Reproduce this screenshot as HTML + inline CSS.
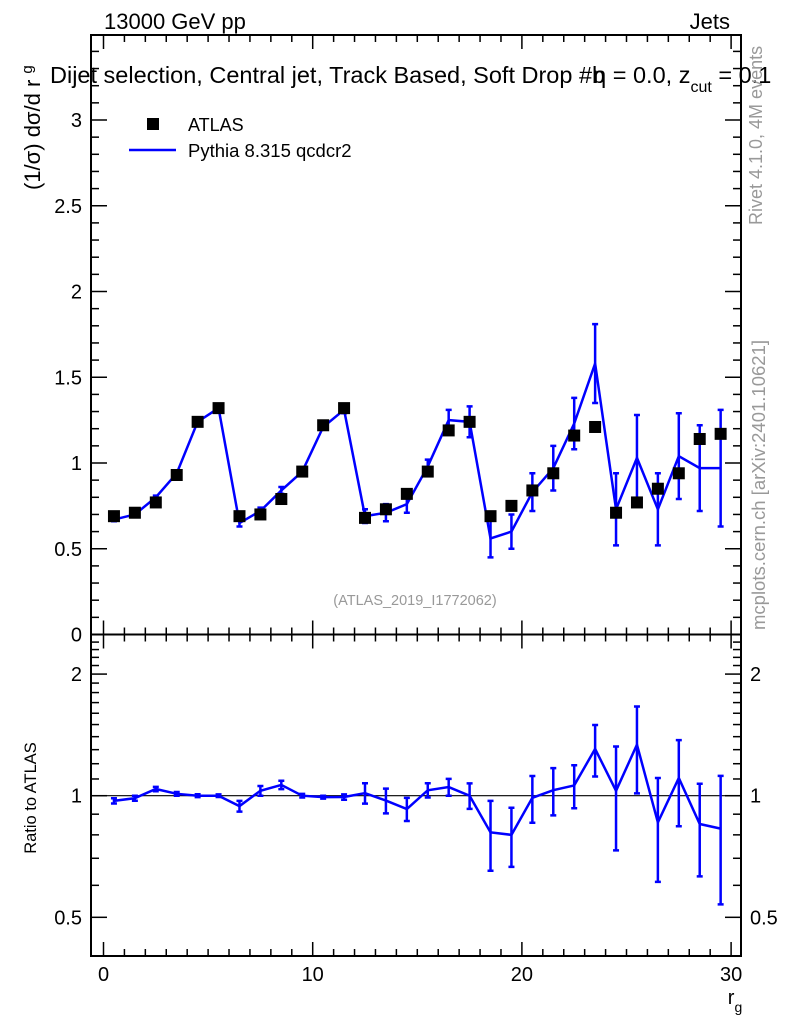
<!DOCTYPE html>
<html><head><meta charset="utf-8"><style>
body{margin:0;background:#fff;}
svg{display:block;font-family:"Liberation Sans",sans-serif;}
</style></head><body>
<svg id="c" width="786" height="1024" viewBox="0 0 786 1024" xmlns="http://www.w3.org/2000/svg">
<text x="104" y="29" font-size="22">13000 GeV pp</text>
<text x="730" y="29" font-size="22" text-anchor="end">Jets</text>
<text x="50" y="83" font-size="23.5">Dijet selection, Central jet, Track Based, Soft Drop #b<tspan dx="-12">η</tspan> = 0.0, z<tspan font-size="16" dy="9">cut</tspan><tspan dy="-9"> = 0.1</tspan></text>
<text transform="translate(40,190) rotate(-90)" font-size="22">(1/σ) dσ/d r <tspan font-size="15" dy="-8">g</tspan></text>
<text transform="translate(762,225) rotate(-90)" font-size="18" fill="#999">Rivet 4.1.0,  4M events</text>
<text transform="translate(765,630) rotate(-90)" font-size="18.5" fill="#999">mcplots.cern.ch [arXiv:2401.10621]</text>
<text x="415" y="605" font-size="14.5" fill="#999" text-anchor="middle">(ATLAS_2019_I1772062)</text>
<text transform="translate(36,798) rotate(-90)" font-size="16.5" text-anchor="middle">Ratio to ATLAS</text>
<text x="735" y="1004" font-size="20" text-anchor="middle">r<tspan font-size="14" dy="8">g</tspan></text>
<g>
<rect x="147" y="118" width="12" height="12" fill="#000"/>
<text x="188" y="131" font-size="18">ATLAS</text>
<line x1="129" y1="150" x2="176" y2="150" stroke="#00f" stroke-width="2.5"/>
<text x="188" y="157" font-size="18.5">Pythia 8.315 qcdcr2</text>
</g>
<g id="g"></g>
</svg>
<script>
const xCenters=[0.5,1.5,2.5,3.5,4.5,5.5,6.5,7.5,8.5,9.5,10.5,11.5,12.5,13.5,14.5,15.5,16.5,17.5,18.5,19.5,20.5,21.5,22.5,23.5,24.5,25.5,26.5,27.5,28.5,29.5];
const atlasValues=[0.69,0.71,0.77,0.93,1.24,1.32,0.69,0.70,0.79,0.95,1.22,1.32,0.68,0.73,0.82,0.95,1.19,1.24,0.69,0.75,0.84,0.94,1.16,1.21,0.71,0.77,0.85,0.94,1.14,1.17];
const mcValues=[0.67,0.70,0.80,0.94,1.24,1.32,0.65,0.72,0.84,0.95,1.21,1.31,0.69,0.71,0.76,0.98,1.25,1.24,0.56,0.60,0.83,0.97,1.23,1.58,0.73,1.03,0.73,1.04,0.97,0.97];
const mcErrors=[0.01,0.01,0.01,0.01,0.01,0.01,0.02,0.02,0.02,0.01,0.01,0.02,0.04,0.05,0.05,0.04,0.06,0.09,0.11,0.10,0.11,0.13,0.15,0.23,0.21,0.25,0.21,0.25,0.25,0.34];
const mainTicks=["0","0.5","1","1.5","2","2.5","3"];
const ratioTicks=[0.5,1,2];
const xTickLabels=["0","10","20","30"];

const NS="http://www.w3.org/2000/svg";
const g=document.getElementById('g');
const L=91,R=741,T=35,MB=634.5,RB=956;
const xs=v=>103.5+v*20.92;
const ym=v=>634.5-v*171.5;
const yr=v=>795.7-404*Math.log10(v);
function el(tag,attrs,parent){const e=document.createElementNS(NS,tag);for(const k in attrs)e.setAttribute(k,attrs[k]);(parent||g).appendChild(e);return e;}

let f1=el('rect',{x:L,y:T,width:R-L,height:MB-T,fill:'none',stroke:'#000','stroke-width':2});


let f2=el('rect',{x:L,y:MB,width:R-L,height:RB-MB,fill:'none',stroke:'#000','stroke-width':2});



for(let v=0;v<=30;v++){
  const len=(v%10===0)?14:7;
  const x=xs(v);
  [[T,1],[MB,-1],[MB,1],[RB,-1]].forEach(([y,d])=>{
    let t=el('line',{x1:x,y1:y,x2:x,y2:y+d*len,stroke:'#000','stroke-width':1.5});
    
    
  });
}
xTickLabels.forEach(s=>{
  let t=el('text',{x:xs(+s),y:981,'font-size':20,'text-anchor':'middle'});
  t.textContent=s;
  
  
});
for(let i=0;i<=35;i++){
  const v=i/10;const y=ym(v);if(y<T)continue;
  const len=(i%5===0)?16:8;
  [[L,1],[R,-1]].forEach(([x,d])=>{
    let t=el('line',{x1:x,y1:y,x2:x+d*len,y2:y,stroke:'#000','stroke-width':1.5});
    
    
  });
}
mainTicks.forEach(s=>{
  let t=el('text',{x:82,y:ym(+s)+7,'font-size':20,'text-anchor':'end'});
  t.textContent=s;
  
  
});
[0.4,0.5,0.6,0.7,0.8,0.9,1,1.1,1.2,1.3,1.4,1.5,1.6,1.7,1.8,1.9,2,2.1,2.2,2.3,2.4].forEach(v=>{
  const y=yr(v);if(y>RB||y<MB)return;
  const len=ratioTicks.includes(v)?16:8;
  [[L,1],[R,-1]].forEach(([x,d])=>{
    let t=el('line',{x1:x,y1:y,x2:x+d*len,y2:y,stroke:'#000','stroke-width':1.5});
    
    
  });
});
ratioTicks.forEach(v=>{
  [[82,'end'],[750,'start']].forEach(([x,a])=>{
    let t=el('text',{x:x,y:yr(v)+7,'font-size':20,'text-anchor':a});
    t.textContent=v===0.5?'0.5':String(v);
    
    
  });
});
let ref=el('line',{x1:L,y1:yr(1),x2:R,y2:yr(1),stroke:'#000','stroke-width':1.2});



function errbar(x,y1,y2,name){
  let e=el('path',{d:`M${x},${y1}V${y2}M${x-3},${y1}H${x+3}M${x-3},${y2}H${x+3}`,stroke:'#00f','stroke-width':2.5,fill:'none'});
  
  
}
xCenters.forEach((x,i)=>errbar(xs(x),ym(mcValues[i]-mcErrors[i]),ym(mcValues[i]+mcErrors[i]),'pythia-error-bar'));
let pl=el('polyline',{points:xCenters.map((x,i)=>xs(x)+','+ym(mcValues[i])).join(' '),fill:'none',stroke:'#00f','stroke-width':2.5});


xCenters.forEach((x,i)=>{
  let r=el('rect',{x:xs(x)-6,y:ym(atlasValues[i])-6,width:12,height:12,fill:'#000'});
  
  
});
const ratios=mcValues.map((m,i)=>m/atlasValues[i]);
xCenters.forEach((x,i)=>{
  const e=mcErrors[i]/atlasValues[i];
  errbar(xs(x),yr(Math.max(ratios[i]-e,0.41)),yr(ratios[i]+e),'ratio-error-bar');
});
let rl=el('polyline',{points:xCenters.map((x,i)=>xs(x)+','+yr(ratios[i])).join(' '),fill:'none',stroke:'#00f','stroke-width':2.5});


</script>
</body></html>
